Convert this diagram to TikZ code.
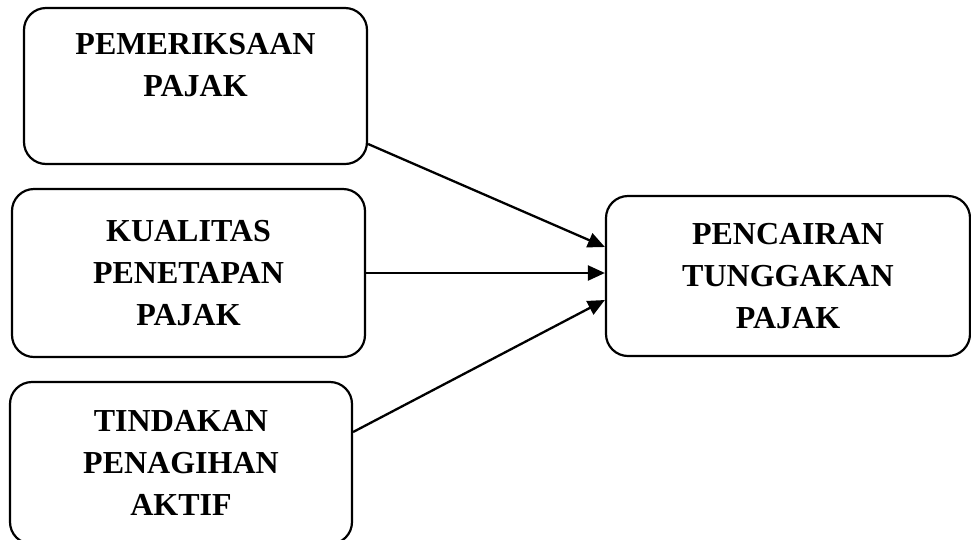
\documentclass[tikz,border=0pt]{standalone}
\usepackage{fontspec}
\setmainfont{Liberation Serif}
\usetikzlibrary{arrows.meta}
\begin{document}
\begin{tikzpicture}[x=1pt,y=1pt,
  box/.style={draw, rounded corners=22pt, line width=2.2pt, align=center,
    font=\bfseries\fontsize{32}{42}\selectfont},
  link/.style={line width=2.3pt, -{Triangle[length=17pt,width=15pt]}}]
\useasboundingbox (0,0) rectangle (971,-539);
\node[box, minimum width=343, minimum height=156] (pemeriksaan) at (195.5,-86) {PEMERIKSAAN\\PAJAK\\\mbox{}};
\node[box, minimum width=353, minimum height=168] (kualitas) at (188.5,-273) {KUALITAS\\PENETAPAN\\PAJAK};
\node[box, minimum width=342, minimum height=162] (tindakan) at (181,-463) {TINDAKAN\\PENAGIHAN\\AKTIF};
\node[box, minimum width=364, minimum height=160] (pencairan) at (788,-276) {PENCAIRAN\\TUNGGAKAN\\PAJAK};
\draw[link] ([yshift=-58pt]pemeriksaan.east) -- ([yshift=29pt]pencairan.west);
\draw[link] (kualitas.east) -- (kualitas.east -| pencairan.west);
\draw[link] ([yshift=31pt]tindakan.east) -- ([yshift=-24pt]pencairan.west);
\end{tikzpicture}
\end{document}
